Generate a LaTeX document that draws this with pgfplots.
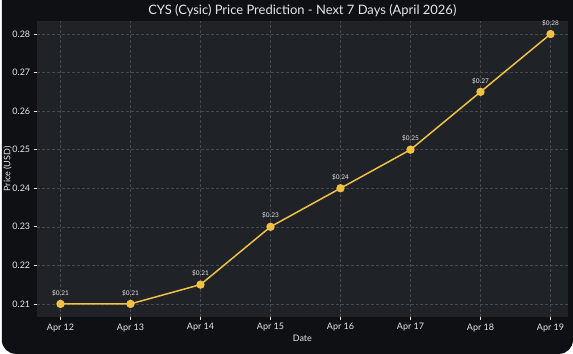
\documentclass[border=0pt]{standalone}
\usepackage{pgfplots}
\pgfplotsset{compat=1.18}
\usepackage{fontspec}
\setmainfont{Lato}
\definecolor{bgdark}{HTML}{0E1014}
\definecolor{plotbg}{HTML}{1F2227}
\definecolor{gold}{HTML}{F2C141}
\definecolor{gridc}{HTML}{45484D}
\definecolor{txt}{HTML}{E6E6E6}
\begin{document}
\begin{tikzpicture}[x=1pt,y=1pt]
\fill[white] (0,0) rectangle (573,355);
\fill[bgdark] (0,355) -- (573,355) [rounded corners=14pt] -- (573,0) -- (0,0) [sharp corners] -- (0,355) -- cycle;
\begin{axis}[
  at={(35pt,37pt)}, anchor=south west,
  scale only axis, width=533pt, height=297pt,
  xmin=-0.34, xmax=7.25, ymin=0.2066, ymax=0.2834,
  axis background/.style={fill=plotbg},
  axis line style={draw=none},
  xtick={0,...,7},
  xticklabels={Apr 12,Apr 13,Apr 14,Apr 15,Apr 16,Apr 17,Apr 18,Apr 19},
  ytick={0.21,0.22,0.23,0.24,0.25,0.26,0.27,0.28},
  yticklabels={0.21,0.22,0.23,0.24,0.25,0.26,0.27,0.28},
  tick align=outside, tick pos=left,
  major tick length=3pt,
  tick style={draw=txt, line width=0.6pt},
  ticklabel style={font=\fontsize{9}{10}\selectfont, text=txt},
  grid=major,
  grid style={draw=gridc, dash pattern=on 3pt off 2pt, line width=0.5pt},
  xlabel={Date}, ylabel={Price (USD)},
  label style={font=\fontsize{9}{11}\selectfont, text=txt},
  xlabel style={yshift=3pt},
  ylabel style={yshift=-6pt},
  title={CYS (Cysic) Price Prediction - Next 7 Days (April 2026)},
  title style={font=\fontsize{13}{15}\selectfont, text=txt, yshift=-5pt},
  clip=false,
  nodes near coords,
  point meta=explicit symbolic,
  nodes near coords style={font=\fontsize{6.5}{8}\selectfont, text=txt, yshift=4pt},
]
\addplot[gold, line width=1.5pt, mark=*, mark size=3.4pt, mark options={fill=gold, draw=gold}]
  table[meta=lab] {
x y lab
0 0.210 \$0.21
1 0.210 \$0.21
2 0.215 \$0.21
3 0.230 \$0.23
4 0.240 \$0.24
5 0.250 \$0.25
6 0.265 \$0.27
7 0.280 \$0.28
};
\end{axis}
\end{tikzpicture}
\end{document}
